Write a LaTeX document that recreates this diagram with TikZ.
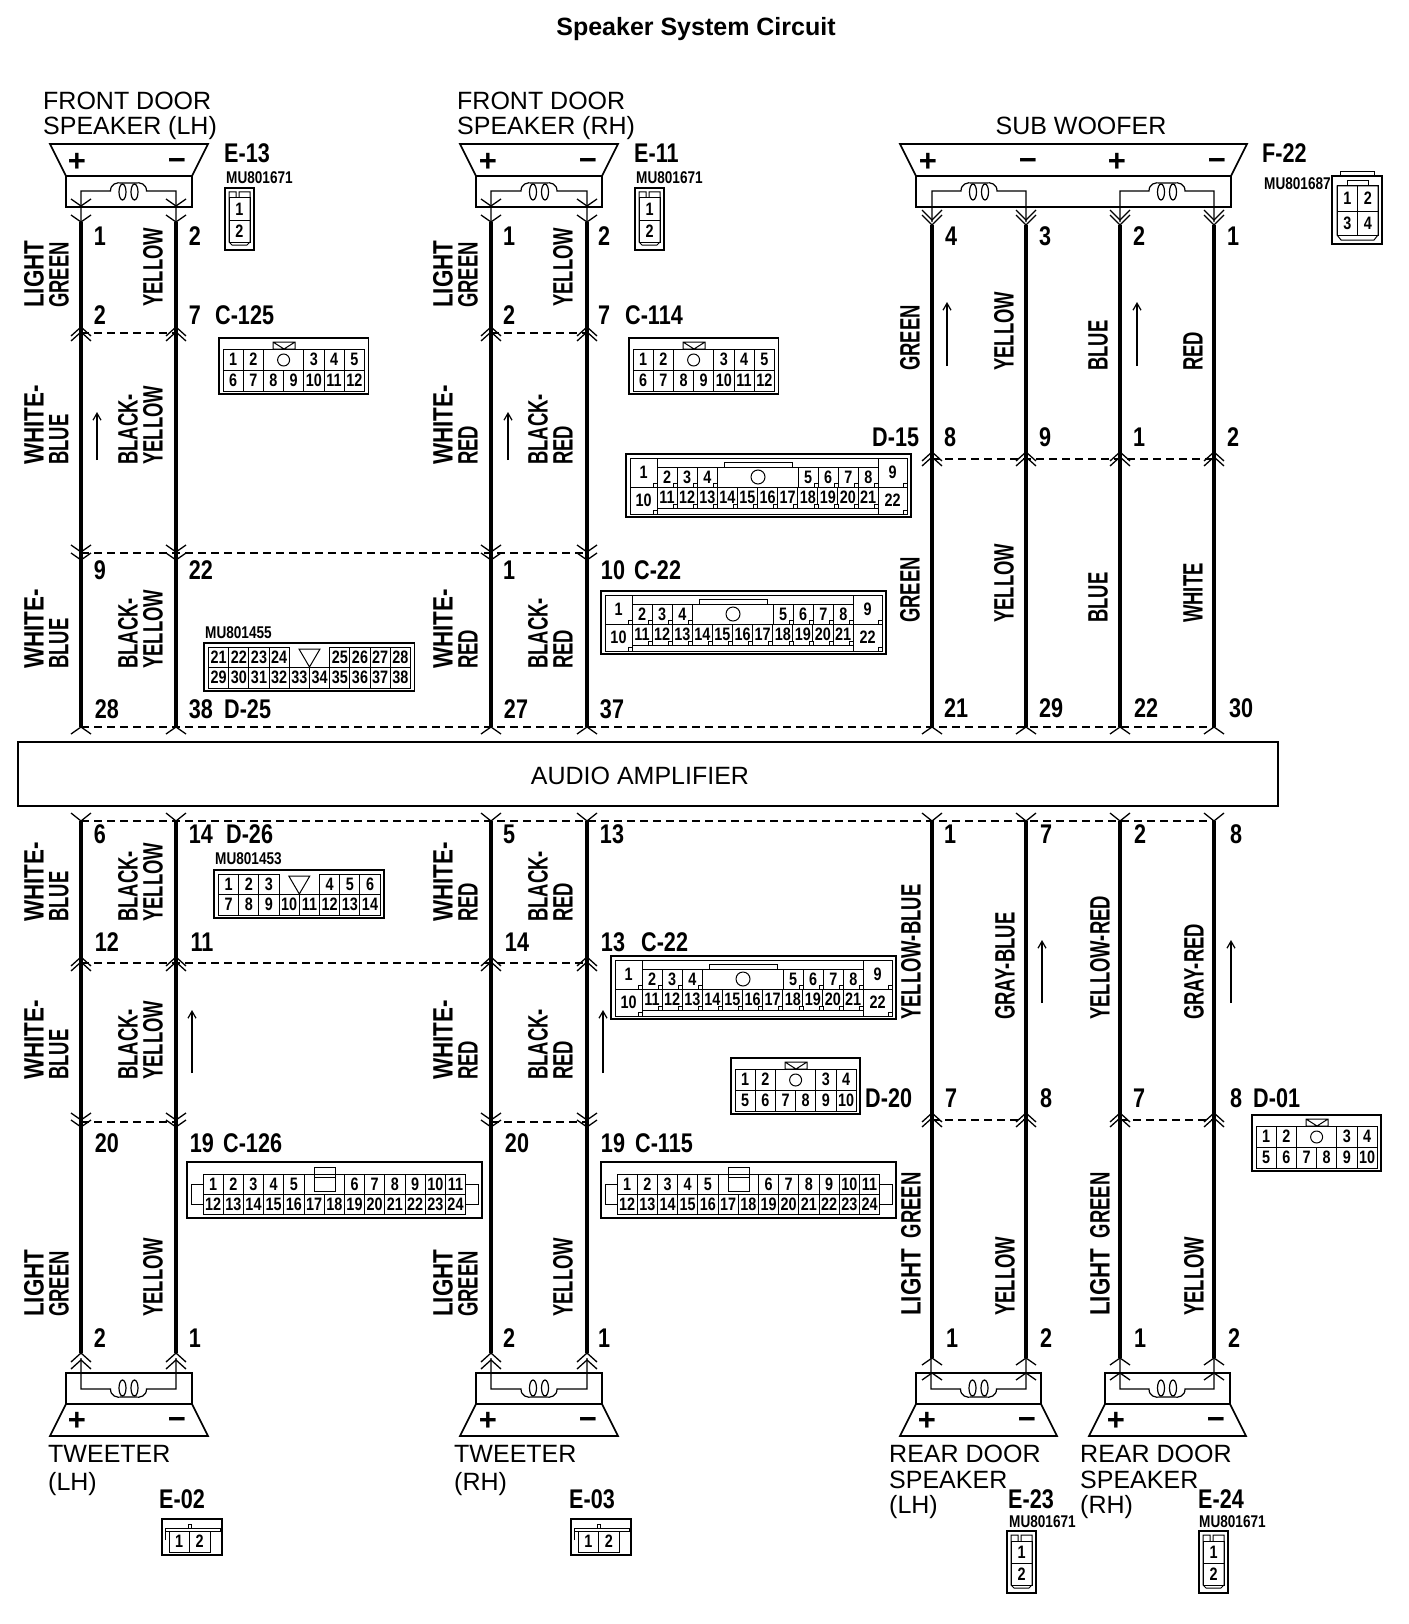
\documentclass[tikz,border=0pt]{standalone}
\usepackage{fontspec}
\setmainfont{Liberation Sans}
\newfontfamily\narrowfont[FakeStretch=0.66]{Liberation Sans}
\newfontfamily\digitfont[FakeStretch=0.8]{Liberation Sans}
\usetikzlibrary{arrows.meta}

\tikzset{
    wire/.style={line width=4pt},
    thinwire/.style={line width=1.2pt},
    chevline/.style={line width=1.3pt},
    splice/.style={line width=1.3pt, dash pattern=on 8pt off 5pt},
    flowarrow/.style={line width=1.2pt, -{Straight Barb[length=7pt,width=8pt]}},
    housing/.style={line width=1.7pt},
    thinpart/.style={line width=1pt},
    pincell/.style={draw, line width=1pt, inner sep=0pt, font=\digitfont\bfseries\fontsize{18}{18}\selectfont},
    pinlbl/.style={inner sep=0pt, font=\digitfont\bfseries\fontsize{27}{27}\selectfont},
    connlbl/.style={inner sep=0pt, anchor=west, font=\digitfont\bfseries\fontsize{27}{27}\selectfont},
    partno/.style={inner sep=0pt, anchor=west, font=\digitfont\bfseries\fontsize{17}{17}\selectfont},
    wirelbl/.style={inner sep=0pt, rotate=90, anchor=west, font=\narrowfont\bfseries\fontsize{28}{28}\selectfont},
    devicelbl/.style={inner sep=0pt, anchor=west, font=\fontsize{25}{25}\selectfont},
    signlbl/.style={inner sep=0pt, font=\bfseries\fontsize{31}{31}\selectfont}
}

% wider letters inside a wire colour
\newcommand{\wideword}[1]{{\digitfont\bfseries #1}}

% chevron on a wire: coordinate, tip offset, arm length
\newcommand{\chev}[3]{\draw[chevline,shift={(#1)}] (-10,#2+#3) -- (0,#2) -- (10,#2+#3);}

% row of numbered cells: name, x, y, cell width, cell height, numbers
\newcommand{\pinrow}[6]{%
    \foreach \pinno [count=\pinidx from 0] in {#6} {
        \node[pincell, minimum width=#4pt, minimum height=#5pt] (#1-\pinno) at ({#2+(\pinidx+0.5)*#4},{#3+0.5*#5}) {\pinno};
    }%
}

% speaker body: x, y of the joint, direction, width
\newcommand{\spkbody}[4]{%
    \begin{scope}[shift={(#1,#2)},yscale=#3]
        \draw[housing] (-16,-32) -- (#4+16,-32) -- (#4,0) -- (0,0) -- cycle;
        \draw[housing] (0,0) rectangle (#4,31);
    \end{scope}%
}
% voice coil: x, y of the joint, direction, left lead, right lead
\newcommand{\voicecoil}[5]{%
    \begin{scope}[shift={(#1,#2)},yscale=#3]
        \pgfmathsetmacro{\cm}{(#4+#5)/2}
        \draw[thinwire] (#4,46) -- (#4,15) -- (\cm-18,15)
            .. controls (\cm-18,8) and (\cm-12,6) .. (\cm-6,7) -- (\cm+6,7)
            .. controls (\cm+12,6) and (\cm+18,8) .. (\cm+18,15) -- (#5,15) -- (#5,46);
        \draw[thinwire] (\cm-6,16) ellipse (3.5 and 8);
        \draw[thinwire] (\cm+6,16) ellipse (3.5 and 8);
    \end{scope}%
}
% plus and minus: name, x, y
\newcommand{\spksigns}[3]{%
    \node[signlbl] (#1-plus) at (#2,#3+2) {+};
    \node[signlbl] (#1-minus) at (#2+100,#3+4) {−};
}

% plug with a round mark: name, x, y, left, right, lower numbers, columns
\newcommand{\roundplug}[7]{%
    \begin{scope}[shift={(#2,#3)}]
        \draw[housing] (0,0) rectangle ({8+#7*20.2},56);
        \draw[thinpart] (54,4) -- (76,4) -- (76,11) -- (54,11) -- cycle (54,4) -- (65,11) -- (76,4);
        \pinrow{#1}{4}{11}{20.2}{21}{#4}
        \draw[thinpart] (44.4,11) rectangle (84.8,32);
        \draw[thinpart] (64.6,22) circle (6);
        \pinrow{#1}{84.8}{11}{20.2}{21}{#5}
        \pinrow{#1}{4}{32}{20.2}{21}{#6}
    \end{scope}%
}

% long plug with corner blocks: name, x, y
\newcommand{\longplug}[3]{%
    \begin{scope}[shift={(#2,#3)}]
        \draw[housing] (0,0) rectangle (285,63);
        \draw[thinpart] (4,4) rectangle (281,60);
        \draw[thinpart] (98,13) -- (98,8) -- (166,8) -- (166,13);
        \draw[thinpart] (91,13) rectangle (172,33);
        \draw[thinpart] (132,23) circle (7);
        \node[pincell, minimum width=27pt, minimum height=29pt] (#1-1) at (17.5,18.5) {1};
        \node[pincell, minimum width=27pt, minimum height=27pt] (#1-10) at (17.5,46.5) {10};
        \node[pincell, minimum width=29pt, minimum height=29pt] (#1-9) at (266.5,18.5) {9};
        \node[pincell, minimum width=29pt, minimum height=27pt] (#1-22) at (266.5,46.5) {22};
        \pinrow{#1}{31}{13}{20.1}{20}{2,3,4}
        \pinrow{#1}{172}{13}{20.1}{20}{5,6,7,8}
        \pinrow{#1}{31}{33}{20.1}{21}{11,12,13,14,15,16,17,18,19,20,21}
        \foreach \sqx in {51,71,91,192,212,232,252,31,281}
            \draw[thinpart, fill=white] (\sqx-4,29) rectangle (\sqx,33);
        \foreach \sqx in {51,71,91,111,131,151,171,192,212,232,252}
            \draw[thinpart, fill=white] (\sqx-4,50) rectangle (\sqx,54);
        \draw[thinpart, fill=white] (27,56) rectangle (31,60);
        \draw[thinpart, fill=white] (277,56) rectangle (281,60);
    \end{scope}%
}

% plug with a V mark: name, x, y, upper left, upper right, lower, left cells, columns
\newcommand{\vplug}[8]{%
    \begin{scope}[shift={(#2,#3)}]
        \draw[housing] (0,0) rectangle ({8.5+#8*20.2},48);
        \pinrow{#1}{4.5}{4}{20.2}{20}{#4}
        \pinrow{#1}{(4.5+(#7+2)*20.2)}{4}{20.2}{20}{#5}
        \pinrow{#1}{4.5}{24}{20.2}{21}{#6}
        \draw[thinpart] ({4.5+(#7+1)*20.2-10.5},6) -- ({4.5+(#7+1)*20.2},24) -- ({4.5+(#7+1)*20.2+10.5},6) -- cycle;
    \end{scope}%
}

% plug with side ears: name, x, y
\newcommand{\earplug}[3]{%
    \begin{scope}[shift={(#2,#3)}]
        \draw[housing] (0,0) rectangle (295,56);
        \draw[thinpart] (16,22) -- (4,22) -- (4,42) -- (16,42);
        \draw[thinpart] (279,22) -- (291,22) -- (291,42) -- (279,42);
        \pinrow{#1}{16}{12}{20.2}{20}{1,2,3,4,5}
        \pinrow{#1}{157.4}{12}{20.2}{20}{6,7,8,9,10,11}
        \pinrow{#1}{16}{32}{20.2}{20}{12,13,14,15,16,17,18,19,20,21,22,23,24}
        \draw[thinpart] (117,12) -- (157.4,12);
        \draw[thinpart] (127,15) rectangle (148,29);
        \draw[thinpart] (127,15) -- (127,5) -- (148,5) -- (148,15);
    \end{scope}%
}

% narrow two pin plug: name, x, y
\newcommand{\narrowplug}[3]{%
    \begin{scope}[shift={(#2,#3)}]
        \draw[housing] (0,0) rectangle (29,62);
        \draw[thinpart] (4,54) -- (4,4) -- (11,4) -- (11,10) (14,10) -- (14,4) -- (25,4) -- (25,54) -- (22,57) -- (7,57) -- (4,54);
        \pinrow{#1}{4}{10}{21}{22}{1}
        \pinrow{#1}{4}{32}{21}{22}{2}
    \end{scope}%
}

% flat two pin plug: name, x, y
\newcommand{\flatplug}[3]{%
    \begin{scope}[shift={(#2,#3)}]
        \draw[housing] (0,0) rectangle (60,36);
        \draw[thinpart] (3,21) -- (3,9) -- (58,9) -- (58,12) -- (3,12);
        \draw[thinpart] (26,9) -- (26,5) -- (29,5) -- (29,9);
        \pinrow{#1}{7}{12}{20.5}{21}{1,2}
    \end{scope}%
}

\begin{document}
\begin{tikzpicture}[x=1pt, y=-1pt]
    \useasboundingbox (0,0) rectangle (1408,1624);

    \node[inner sep=0pt, font=\bfseries\fontsize{25}{25}\selectfont] (title) at (696,29) {Speaker System Circuit};

    % levels of the wires
    \foreach \wn/\wx in {a/81,b/176,c/491,d/587}
        \foreach \ln/\ly in {top/222,up/333,mid/553,amptop/727,ampbot/821,low/963,sub/1122,bot/1353}
            \coordinate (\wn-\ln) at (\wx,\ly);
    \foreach \wn/\wx in {e/932,f/1026,g/1120,h/1214}
        \foreach \ln/\ly in {top/225,up/459,amptop/727,ampbot/821,sub/1120,bot/1358}
            \coordinate (\wn-\ln) at (\wx,\ly);

    \node[draw, line width=1.5pt, minimum width=1260pt, minimum height=64pt, inner sep=0pt] (amp) at (648,774) {};
    \node[inner sep=0pt, font=\fontsize{25}{25}\selectfont] (amplabel) at (640,776) {AUDIO AMPLIFIER};

    % speakers
    \spkbody{66}{176}{1}{126}
    \spkbody{476}{176}{1}{126}
    \spkbody{916}{176}{1}{315}
    \spkbody{66}{1404}{-1}{126}
    \spkbody{476}{1404}{-1}{126}
    \spkbody{916}{1404}{-1}{125}
    \spkbody{1105}{1404}{-1}{125}

    \voicecoil{66}{176}{1}{15}{110}
    \voicecoil{476}{176}{1}{15}{111}
    \voicecoil{916}{176}{1}{16}{110}
    \voicecoil{916}{176}{1}{204}{298}
    \voicecoil{66}{1404}{-1}{15}{110}
    \voicecoil{476}{1404}{-1}{15}{111}
    \voicecoil{916}{1404}{-1}{15}{110}
    \voicecoil{1105}{1404}{-1}{15}{109}

    \spksigns{fl}{77}{160}
    \spksigns{fr}{488}{160}
    \spksigns{wa}{928}{160}
    \spksigns{wb}{1117}{160}
    \spksigns{tl}{77}{1419}
    \spksigns{tr}{488}{1419}
    \spksigns{rl}{927}{1419}
    \spksigns{rr}{1116}{1419}

    % wires
    \foreach \wn in {a,b,c,d,e,f,g,h} {
        \draw[wire] (\wn-top) -- (\wn-amptop);
        \draw[wire] (\wn-ampbot) -- (\wn-bot);
    }
    \draw[splice] (a-up) -- (b-up);
    \draw[splice] (c-up) -- (d-up);
    \draw[splice] (a-mid) -- (d-mid);
    \draw[splice] (e-up) -- (h-up);
    \draw[splice] (a-amptop) -- (h-amptop);
    \draw[splice] (a-ampbot) -- (h-ampbot);
    \draw[splice] (a-low) -- (d-low);
    \draw[splice] (a-sub) -- (b-sub);
    \draw[splice] (c-sub) -- (d-sub);
    \draw[splice] (e-sub) -- (f-sub);
    \draw[splice] (g-sub) -- (h-sub);

    % chevrons
    \foreach \wn in {a,b,c,d} {
        \chev{\wn-top}{0}{-7}
        \chev{\wn-top}{-16}{-7}
        \chev{\wn-up}{-6}{9}
        \chev{\wn-up}{-1}{9}
        \chev{\wn-mid}{-1}{-7}
        \chev{\wn-mid}{7}{-7}
        \chev{\wn-low}{-6}{9}
        \chev{\wn-low}{-1}{9}
        \chev{\wn-sub}{-2}{-7}
        \chev{\wn-sub}{5}{-7}
        \chev{\wn-bot}{0}{9}
        \chev{\wn-bot}{7}{9}
    }
    \foreach \wn in {e,f,g,h} {
        \chev{\wn-top}{0}{-10}
        \chev{\wn-top}{-5}{-10}
        \chev{\wn-up}{-7}{9}
        \chev{\wn-up}{-2}{9}
        \chev{\wn-sub}{-7}{9}
        \chev{\wn-sub}{-2}{9}
        \chev{\wn-bot}{0}{7}
        \chev{\wn-bot}{15}{7}
    }
    \foreach \wn in {a,b,c,d,e,f,g,h} {
        \chev{\wn-amptop}{0}{7}
        \chev{\wn-ampbot}{0}{-8}
    }

    % current arrows
    \foreach \fx/\fs/\fe [count=\fn] in {97/460/412,508/460/412,947/366/302,1137/366/302,192/1073/1010,603/1073/1010,1042/1003/940,1231/1003/940} {
        \coordinate (fs\fn) at (\fx,\fs);
        \coordinate (fe\fn) at (\fx,\fe);
        \draw[flowarrow] (fs\fn) -- (fe\fn);
    }

    % pin numbers at the wires
    \foreach \px/\py/\ptext in {100/236/1,195/236/2,100/315/2,195/315/7,100/570/9,201/570/22,107/709/28,201/709/38,
        100/834/6,201/834/14,107/942/12,202/942/11,107/1143/20,202/1143/19,100/1338/2,195/1338/1,
        509/236/1,604/236/2,509/315/2,604/315/7,509/570/1,613/570/10,516/709/27,612/709/37,
        509/834/5,612/834/13,517/942/14,613/942/13,517/1143/20,613/1143/19,509/1338/2,604/1338/1,
        951/236/4,1045/236/3,1139/236/2,1233/236/1,950/437/8,1045/437/9,1139/437/1,1233/437/2,
        956/708/21,1051/708/29,1146/708/22,1241/708/30,950/834/1,1046/834/7,1140/834/2,1236/834/8,
        951/1098/7,1046/1098/8,1139/1098/7,1236/1098/8,952/1338/1,1046/1338/2,1140/1338/1,1234/1338/2}
        \node[pinlbl] (p-\px-\py) at (\px,\py) {\ptext};

    % connector names
    \foreach \px/\py/\ptext in {215/315/C-125,625/315/C-114,634/570/C-22,224/709/D-25,226/834/D-26,641/942/C-22,
        223/1143/C-126,635/1143/C-115,872/437/D-15,865/1098/D-20,1253/1098/D-01,224/153/E-13,634/153/E-11,
        1262/153/F-22,159/1499/E-02,569/1499/E-03,1008/1499/E-23,1198/1499/E-24}
        \node[connlbl] (n-\px-\py) at (\px,\py) {\ptext};
    \foreach \px/\py/\ptext in {226/178/MU801671,636/178/MU801671,1264/184/MU801687,205/633/MU801455,
        215/859/MU801453,1009/1522/MU801671,1199/1522/MU801671}
        \node[partno] (m-\px-\py) at (\px,\py) {\ptext};

    % wire colours
    \foreach \lx/\ly/\ltext in {34/308/\wideword{LIGHT},59/308/GREEN,153/307/YELLOW,34/465/\wideword{WHITE-},59/465/BLUE,128/465/BLACK-,153/465/YELLOW,
        34/669/\wideword{WHITE-},59/669/BLUE,128/669/BLACK-,153/669/YELLOW,34/922/\wideword{WHITE-},59/922/BLUE,128/922/BLACK-,153/922/YELLOW,
        34/1080/\wideword{WHITE-},59/1080/BLUE,128/1080/BLACK-,153/1080/YELLOW,34/1317/\wideword{LIGHT},59/1317/GREEN,153/1317/YELLOW,
        443/308/\wideword{LIGHT},468/308/GREEN,563/307/YELLOW,443/465/\wideword{WHITE-},468/465/RED,538/465/BLACK-,563/465/RED,
        443/669/\wideword{WHITE-},468/669/RED,538/669/BLACK-,563/669/RED,443/922/\wideword{WHITE-},468/922/RED,538/922/BLACK-,563/922/RED,
        443/1080/\wideword{WHITE-},468/1080/RED,538/1080/BLACK-,563/1080/RED,443/1317/\wideword{LIGHT},468/1317/GREEN,563/1317/YELLOW,
        910/371/GREEN,1004/371/YELLOW,1098/371/BLUE,1193/371/RED,910/623/GREEN,1004/623/YELLOW,1098/623/BLUE,1193/623/WHITE,
        911/1020/YELLOW-BLUE,1005/1020/GRAY-BLUE,1100/1020/YELLOW-RED,1194/1020/GRAY-RED,
        911/1316/\wideword{LIGHT}~~GREEN,1005/1316/YELLOW,1100/1316/\wideword{LIGHT}~~GREEN,1194/1316/YELLOW}
        \node[wirelbl] (w-\lx-\ly) at (\lx,\ly) {\ltext};

    % device names
    \node[devicelbl] (fl-a) at (43,101) {FRONT DOOR};
    \node[devicelbl] (fl-b) at (43,128) {SPEAKER (LH)};
    \node[devicelbl] (fr-a) at (457,101) {FRONT DOOR};
    \node[devicelbl] (fr-b) at (457,128) {SPEAKER (RH)};
    \node[devicelbl, anchor=center] (woofer) at (1081,126) {SUB WOOFER};
    \node[devicelbl] (tl-a) at (48,1454) {TWEETER};
    \node[devicelbl] (tl-b) at (48,1484) {(LH)};
    \node[devicelbl] (tr-a) at (454,1454) {TWEETER};
    \node[devicelbl] (tr-b) at (454,1484) {(RH)};
    \node[devicelbl] (rl-a) at (889,1454) {REAR DOOR};
    \node[devicelbl] (rl-b) at (889,1480) {SPEAKER};
    \node[devicelbl] (rl-c) at (889,1507) {(LH)};
    \node[devicelbl] (rr-a) at (1080,1454) {REAR DOOR};
    \node[devicelbl] (rr-b) at (1080,1480) {SPEAKER};
    \node[devicelbl] (rr-c) at (1080,1507) {(RH)};

    % connector faces
    \narrowplug{e13}{225}{188}
    \narrowplug{e11}{635}{188}
    \narrowplug{e23}{1007}{1531}
    \narrowplug{e24}{1199}{1531}
    \flatplug{e02}{162}{1519}
    \flatplug{e03}{571}{1519}
    \roundplug{c125}{219}{338}{1,2}{3,4,5}{6,7,8,9,10,11,12}{7}
    \roundplug{c114}{629}{338}{1,2}{3,4,5}{6,7,8,9,10,11,12}{7}
    \roundplug{d20}{731}{1058}{1,2}{3,4}{5,6,7,8,9,10}{6}
    \roundplug{d01}{1252}{1115}{1,2}{3,4}{5,6,7,8,9,10}{6}
    \longplug{d15}{626}{454}
    \longplug{c22a}{601}{591}
    \longplug{c22b}{611}{956}
    \vplug{d25}{204}{643}{21,22,23,24}{25,26,27,28}{29,30,31,32,33,34,35,36,37,38}{4}{10}
    \vplug{d26}{214}{870}{1,2,3}{4,5,6}{7,8,9,10,11,12,13,14}{3}{8}
    \earplug{c126}{187}{1162}
    \earplug{c115}{601}{1162}

    % F-22 face
    \draw[housing] (1332,176) rectangle (1382,244);
    \draw[thinpart] (1340,176) -- (1340,172) -- (1374,172) -- (1374,176);
    \draw[thinpart] (1347,186) -- (1347,181) -- (1368,181) -- (1368,186);
    \draw[thinpart] (1337,235) -- (1337,186) -- (1378,186) -- (1378,235) -- (1374,240) -- (1341,240) -- cycle;
    \draw[thinpart] (1337,235) -- (1378,235);
    \pinrow{f22}{1337}{186}{20.5}{25}{1,2}
    \pinrow{f22}{1337}{211}{20.5}{24}{3,4}
\end{tikzpicture}
\end{document}
